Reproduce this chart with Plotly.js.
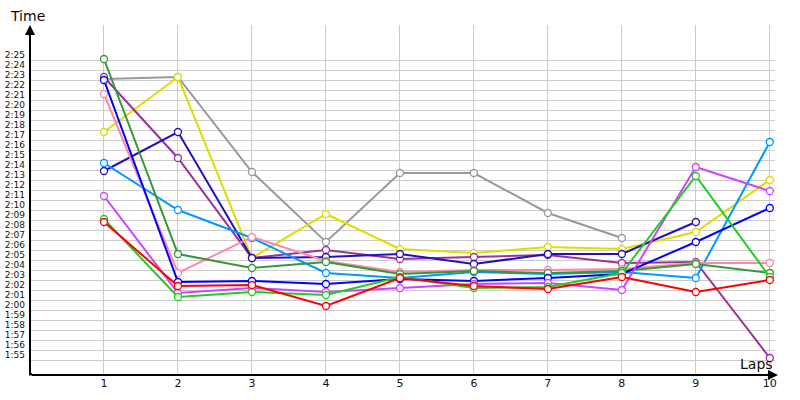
<!DOCTYPE html>
<html>
<head>
<meta charset="utf-8">
<script src="https://cdn.plot.ly/plotly-3.0.1.min.js"></script>
<style>
  body { margin: 0; background: #fff; }
  #lap_plot { width: 800px; height: 400px; }
</style>
</head>
<body>
<div id="lap_plot"></div>
<script>
// lap times in seconds (2:05 = 125)
var laps = [1, 2, 3, 4, 5, 6, 7, 8, 9, 10];
var gray_times = [143.1, 143.3, 133.8, 126.8, 133.7, 133.7, 129.7, 127.2];
var yellow_times = [137.8, 143.3, 125.2, 129.6, 126.1, 125.7, 126.3, 126.1, 127.8, 133.0];
var purple_times = [143.3, 135.2, 125.2, 126.0, 125.1, 125.3, 125.5, 124.7, 124.8, 115.2];
var navy_times = [133.9, 137.8, 125.2, 125.3, 125.6, 124.6, 125.6, 125.6, 128.8];
var lightblue_times = [134.7, 130.0, 127.2, 123.7, 123.2, 123.8, 123.6, 123.8, 123.2, 136.8];
var pink_times = [141.6, 123.7, 127.3, 124.9, 123.8, 124.0, 124.0, 124.1, 124.7, 124.7];
var darkgreen_times = [145.1, 125.6, 124.2, 124.8, 123.6, 123.9, 123.7, 123.9, 124.6, 123.7];
var blue_times = [143.0, 122.8, 122.9, 122.6, 123.1, 122.9, 123.2, 123.6, 126.8, 130.2];
var magenta_times = [131.4, 121.7, 122.2, 121.8, 122.2, 122.6, 122.7, 122.0, 134.3, 131.9];
var green_times = [129.1, 121.3, 121.8, 121.5, 123.3, 122.2, 122.3, 123.7, 133.4, 123.3];
var red_times = [128.8, 122.4, 122.5, 120.4, 123.2, 122.4, 122.1, 123.3, 121.8, 123.0];

var time_ticks = [115, 116, 117, 118, 119, 120, 121, 122, 123, 124, 125, 126, 127, 128, 129, 130,
  131, 132, 133, 134, 135, 136, 137, 138, 139, 140, 141, 142, 143, 144, 145];
var time_labels = ['1:55', '1:56', '1:57', '1:58', '1:59', '2:00', '2:01', '2:02', '2:03', '2:04',
  '2:05', '2:06', '2:07', '2:08', '2:09', '2:10', '2:11', '2:12', '2:13', '2:14', '2:15', '2:16',
  '2:17', '2:18', '2:19', '2:20', '2:21', '2:22', '2:23', '2:24', '2:25'];

var series = [
  [gray_times, '#999999'],
  [yellow_times, '#dddd00'],
  [purple_times, '#993399'],
  [navy_times, '#2211bb'],
  [lightblue_times, '#0099ff'],
  [pink_times, '#ff88aa'],
  [darkgreen_times, '#339933'],
  [blue_times, '#0000ff'],
  [magenta_times, '#cc44ff'],
  [green_times, '#22cc22'],
  [red_times, '#ff0000']
];

var traces = series.map(function(s) {
  return {
    x: laps.slice(0, s[0].length), y: s[0],
    mode: 'lines+markers', type: 'scatter',
    line: {color: s[1], width: 2},
    marker: {symbol: 'circle', size: 7, color: '#ffffff', line: {color: s[1], width: 1.3}}
  };
});

var layout = {
  width: 800, height: 400,
  margin: {l: 30, r: 25, t: 25, b: 25},
  paper_bgcolor: '#ffffff', plot_bgcolor: '#ffffff',
  showlegend: false,
  font: {family: 'DejaVu Sans, sans-serif', color: '#111111'},
  xaxis: {
    range: [0, 10.07], tickvals: laps, ticks: '',
    showgrid: true, gridcolor: '#cccccc', gridwidth: 1,
    zeroline: false, showline: false,
    tickfont: {size: 11}
  },
  yaxis: {
    range: [113.5, 148.5], tickvals: time_ticks, ticktext: time_labels, ticks: '',
    showgrid: true, gridcolor: '#cccccc', gridwidth: 1,
    zeroline: false, showline: false,
    tickfont: {size: 9}, ticklabelshift: -5, ticklabelstandoff: 4
  },
  annotations: [
    // axis arrows
    {xref: 'paper', yref: 'paper', x: 0, y: 1, axref: 'pixel', ayref: 'pixel', ax: 0, ay: 352,
     showarrow: true, arrowhead: 2, arrowsize: 1, arrowwidth: 2, arrowcolor: '#000', text: ''},
    {xref: 'paper', yref: 'paper', x: 1.004, y: 0, axref: 'pixel', ayref: 'pixel', ax: -748, ay: 0,
     showarrow: true, arrowhead: 2, arrowsize: 1, arrowwidth: 2, arrowcolor: '#000', text: ''},
    {xref: 'paper', yref: 'paper', x: -0.03, y: 1.026, xanchor: 'left', yanchor: 'middle',
     showarrow: false, text: 'Time', font: {size: 14, color: '#110800'}},
    {xref: 'paper', yref: 'paper', x: 1, y: 0.031, xanchor: 'right', yanchor: 'middle',
     showarrow: false, text: 'Laps', font: {size: 14, color: '#110800'}}
  ],
  shapes: [
    {type: 'rect', xref: 'x', yref: 'y', xsizemode: 'pixel', ysizemode: 'pixel',
     xanchor: 0, yanchor: 113.5, x0: -2, x1: 2, y0: -2, y1: 2,
     fillcolor: '#000', line: {width: 0}}
  ]
};

Plotly.newPlot('lap_plot', traces, layout, {staticPlot: true});
</script>
</body>
</html>
